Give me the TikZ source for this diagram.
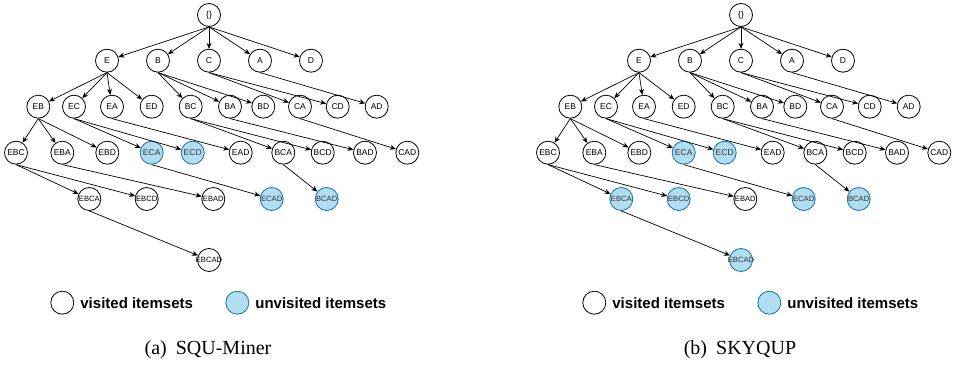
\documentclass[tikz,border=0pt]{standalone}
\usepackage{fontspec}
\setmainfont{Liberation Serif}
\setsansfont{Liberation Sans}
\usetikzlibrary{arrows.meta,positioning}

\definecolor{unvisitfill}{HTML}{B1DDF0}
\definecolor{unvisitdraw}{HTML}{10739E}

\tikzset{
  itemset/.style={circle, draw, line width=0.8pt, minimum size=23pt, inner sep=-4pt,
    font=\sffamily\fontsize{8.5}{9}\selectfont},
  visited/.style={itemset, fill=white},
  unvisited/.style={itemset, draw=unvisitdraw, fill=unvisitfill, text=black!80},
  deepset/.style={font=\sffamily\fontsize{7.6}{8}\selectfont},
  edge/.style={line width=0.7pt, -{Stealth[length=6pt,width=5pt]}},
  legendtext/.style={font=\sffamily\bfseries\fontsize{15}{18}\selectfont, inner sep=0pt},
  caption/.style={font=\fontsize{20}{24}\selectfont}
}

% one search tree; the styles late and latest are set by each panel
\newcommand{\itemtree}{%
  % Level 0 and 1
  \node[visited] (root) at (209,15) {\{\}};
  \foreach \n/\x in {E/107,B/158,C/209,A/260,D/311}
    \node[visited] (\n) at (\x,60.7) {\n};
  % Level 2
  \foreach \n/\x in {EB/38.3,EC/74,EA/112,ED/151.7,BC/190.7,BA/230,BD/263.3,CA/300,CD/337.7,AD/376.7}
    \node[visited] (\n) at (\x,106.7) {\n};
  % Level 3
  \foreach \n/\x/\s in {EBC/16/visited,EBA/62.3/visited,EBD/107.3/visited,ECA/151.7/unvisited,
      ECD/192.7/unvisited,EAD/240.7/visited,BCA/283.3/visited,BCD/322.7/visited,
      BAD/365/visited,CAD/407.3/visited}
    \node[\s] (\n) at (\x,152.7) {\n};
  % Level 4 and 5
  \foreach \n/\x/\s in {EBCA/89.3/late,EBCD/146.7/late,EBAD/213.3/visited,
      ECAD/271.7/unvisited,BCAD/326.7/unvisited}
    \node[\s, deepset] (\n) at (\x,199) {\n};
  \node[latest, deepset] (EBCAD) at (209,260) {EBCAD};
  % Edges, parent to child
  \foreach \a/\b in {root/E,root/B,root/C,root/A,root/D,
      E/EB,E/EC,E/EA,E/ED,B/BC,B/BA,B/BD,C/CA,C/CD,A/AD,
      EB/EBC,EB/EBA,EB/EBD,EC/ECA,EC/ECD,EA/EAD,BC/BCA,BC/BCD,BA/BAD,CA/CAD,
      EBC/EBCA,EBC/EBCD,EBA/EBAD,ECA/ECAD,BCA/BCAD,EBCA/EBCAD}
    \draw[edge] (\a.south) -- (\b);
  % Legend
  \node[visited] (lv) at (62.3,302.7) {};
  \node[legendtext, right=6pt of lv] (lvt) {visited itemsets};
  \node[unvisited] (lu) at (237.3,302.7) {};
  \node[legendtext, right=6pt of lu] (lut) {unvisited itemsets};
}

\begin{document}
\begin{tikzpicture}[x=1pt, y=-1pt]
  \useasboundingbox (0,0) rectangle (954,366);

  % (a) SQU-Miner
  \begin{scope}[name prefix=a-, late/.style=visited, latest/.style=visited]
    \itemtree
    \node[caption] (cap) at (208,350) {(a)\hspace{9pt}SQU-Miner};
  \end{scope}

  % (b) SKYQUP
  \begin{scope}[shift={(532,0)}, name prefix=b-, late/.style=unvisited, latest/.style=unvisited]
    \itemtree
    \node[caption] (cap) at (208,350) {(b)\hspace{9pt}SKYQUP};
  \end{scope}
\end{tikzpicture}
\end{document}
